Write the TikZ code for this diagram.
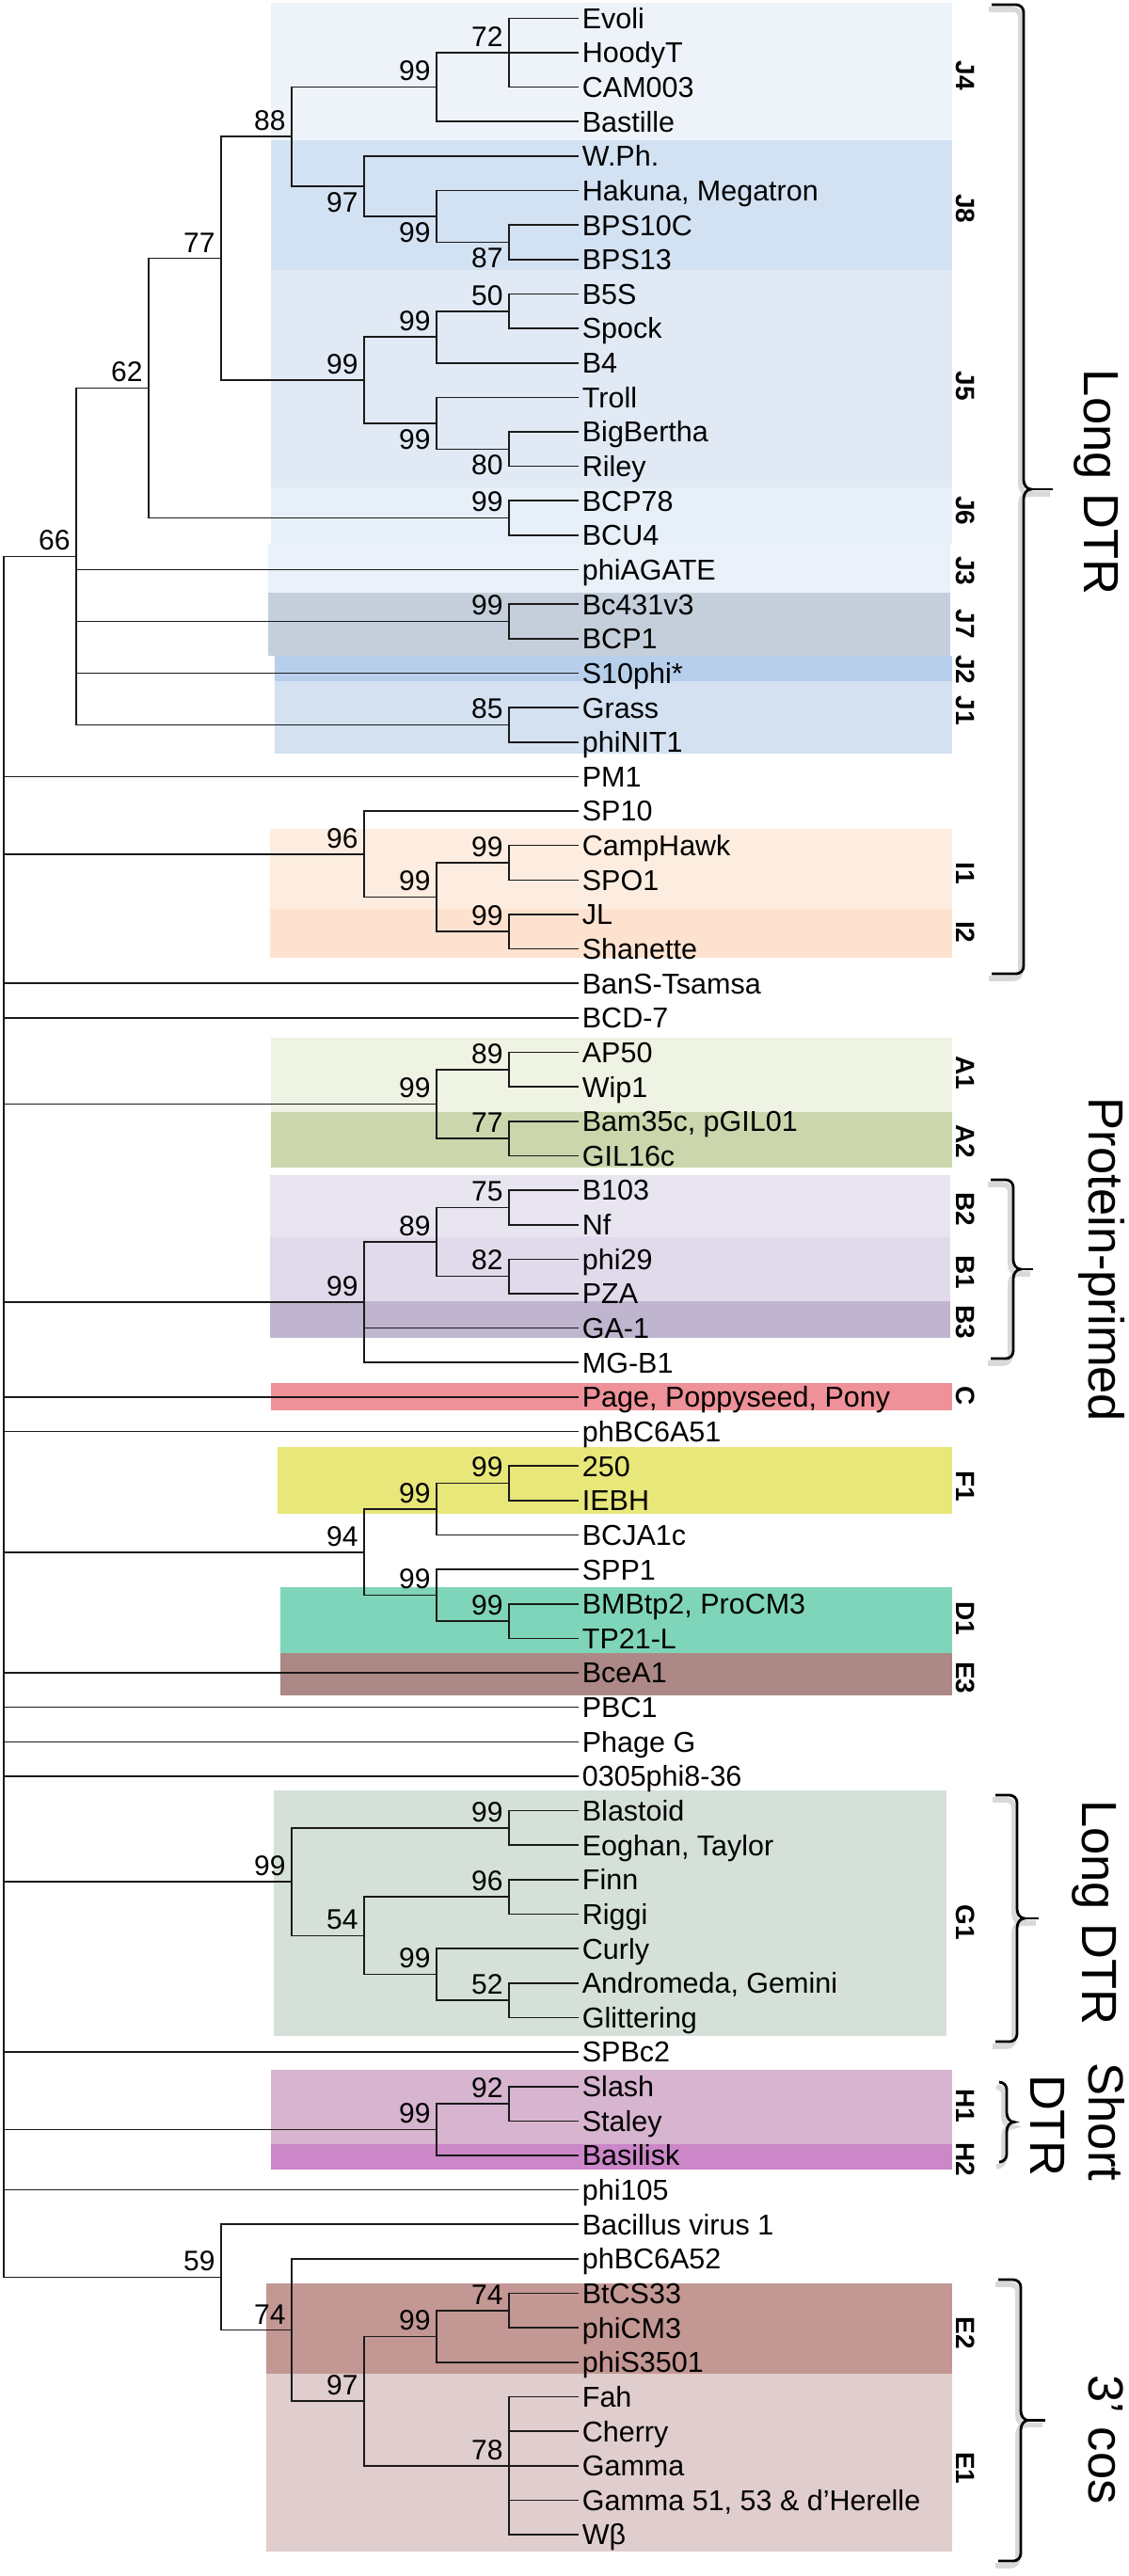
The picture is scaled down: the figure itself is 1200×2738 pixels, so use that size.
\documentclass[tikz,border=0pt]{standalone}
\usepackage{fontspec}
\setmainfont{Liberation Sans}
\usepackage{tikz}
\usetikzlibrary{positioning, calc}

\definecolor{jfour}{HTML}{EEF3F9}
\definecolor{jeight}{HTML}{D3E2F3}
\definecolor{jfive}{HTML}{E1E9F4}
\definecolor{jsix}{HTML}{E7EFF8}
\definecolor{jthree}{HTML}{EAF1F9}
\definecolor{jseven}{HTML}{C4CFDB}
\definecolor{jtwo}{HTML}{B7CFEB}
\definecolor{jone}{HTML}{D3E1F1}
\definecolor{ione}{HTML}{FDEDE0}
\definecolor{itwo}{HTML}{FDE2CF}
\definecolor{aone}{HTML}{EEF3E3}
\definecolor{atwo}{HTML}{CBD6AD}
\definecolor{btwo}{HTML}{E8E4F0}
\definecolor{bone}{HTML}{E0DAEA}
\definecolor{bthree}{HTML}{C0B5CE}
\definecolor{cred}{HTML}{EF9198}
\definecolor{fyellow}{HTML}{E8E779}
\definecolor{dmint}{HTML}{7FD5B9}
\definecolor{ethree}{HTML}{AC8986}
\definecolor{gone}{HTML}{D5E0D9}
\definecolor{hone}{HTML}{D7B4CF}
\definecolor{htwo}{HTML}{CB87C8}
\definecolor{etwo}{HTML}{C39793}
\definecolor{eone}{HTML}{E0CDCD}
\definecolor{treeline}{HTML}{1A1A1A}

\tikzset{
  branch/.style={draw=treeline, line width=0.8pt},
  leaf/.style={anchor=west, inner xsep=1.75pt, inner ysep=0pt, text height=10.9pt, text depth=0pt, font=\fontsize{15.25}{18}\selectfont},
  bsa/.style={anchor=south east, inner sep=0pt, xshift=-3pt, yshift=3pt, font=\fontsize{15}{18}\selectfont},
  bsb/.style={anchor=north east, inner sep=0pt, xshift=-3pt, yshift=-3pt, font=\fontsize{15}{18}\selectfont},
  grp/.style={rotate=-90, inner sep=0pt, font=\bfseries\fontsize{14}{16}\selectfont},
  tag/.style={rotate=-90, anchor=base, inner sep=0pt, font=\fontsize{26.25}{30}\selectfont},
  cbrace/.style={draw=black, line width=1.4pt},
  cshadow/.style={draw=black!15, line width=2.8pt, xshift=-1.5pt, yshift=-2.5pt},
}

% brace: x, top, bottom, hook, tip
\newcommand{\cladebrace}[5]{%
  \draw[cshadow] ({#1-#4},#2) -- ({#1-8},#2) to[out=0,in=90] (#1,{#2+8})
    -- (#1,{(#2+#3)/2-10}) to[out=-90,in=180] ({#1+8},{(#2+#3)/2})
    to[out=180,in=90] (#1,{(#2+#3)/2+10}) -- (#1,{#3-8})
    to[out=-90,in=0] ({#1-8},#3) -- ({#1-#4},#3);
  \draw[cshadow] ({#1+8},{(#2+#3)/2}) -- ({#1+#5},{(#2+#3)/2});
  \draw[cbrace] ({#1-#4},#2) -- ({#1-8},#2) to[out=0,in=90] (#1,{#2+8})
    -- (#1,{(#2+#3)/2-10}) to[out=-90,in=180] ({#1+8},{(#2+#3)/2})
    to[out=180,in=90] (#1,{(#2+#3)/2+10}) -- (#1,{#3-8})
    to[out=-90,in=0] ({#1-8},#3) -- ({#1-#4},#3);
  \draw[cbrace] ({#1+8},{(#2+#3)/2}) -- ({#1+#5},{(#2+#3)/2});
}

\begin{document}
\begin{tikzpicture}[x=0.5pt, y=-0.5pt]
  \useasboundingbox (0,0) rectangle (1200,2738);
  \fill[white] (0,0) rectangle (1200,2738);

  % clade boxes
  \foreach \xa/\ya/\xb/\yb/\col in {
    288/3/1012/149/jfour, 288/149/1012/287/jeight, 288/287/1012/518/jfive,
    288/518/1012/578/jsix, 285/578/1010/630/jthree, 285/630/1010/697/jseven,
    292/697/1012/724/jtwo, 292/724/1012/801/jone,
    287/881/1012/966/ione, 287/966/1012/1018/itwo,
    288/1103/1012/1182/aone, 288/1182/1012/1241/atwo,
    287/1249/1010/1315/btwo, 287/1315/1010/1383/bone, 287/1383/1010/1422/bthree,
    288/1470/1012/1499/cred, 295/1538/1012/1609/fyellow,
    298/1687/1012/1757/dmint, 298/1757/1012/1802/ethree,
    291/1903/1006/2164/gone,
    288/2200/1012/2279/hone, 288/2279/1012/2306/htwo,
    283/2427/1012/2523/etwo, 283/2523/1012/2712/eone}
    \fill[\col] (\xa,\ya) rectangle (\xb,\yb);

  % leaves
  \foreach \nm/\txt [count=\i from 0] in {
    evoli/Evoli, hoodyt/HoodyT, cam003/CAM003, bastille/Bastille, wph/W.Ph.,
    hakuna/{Hakuna, Megatron}, bps10c/BPS10C, bps13/BPS13, b5s/B5S, spock/Spock,
    b4/B4, troll/Troll, bigbertha/BigBertha, riley/Riley, bcp78/BCP78, bcu4/BCU4,
    phiagate/phiAGATE, bc431v3/Bc431v3, bcp1/BCP1, s10phi/S10phi*, grass/Grass,
    phinit1/phiNIT1, pm1/PM1, sp10/SP10, camphawk/CampHawk, spo1/SPO1, jl/JL,
    shanette/Shanette, bans/BanS-Tsamsa, bcd7/BCD-7, ap50/AP50, wip1/Wip1,
    bam35c/{Bam35c, pGIL01}, gil16c/GIL16c, b103/B103, nf/Nf, phi29/phi29,
    pza/PZA, ga1/GA-1, mgb1/MG-B1, page/{Page, Poppyseed, Pony}, phbc6a51/phBC6A51,
    p250/250, iebh/IEBH, bcja1c/BCJA1c, spp1/SPP1, bmbtp2/{BMBtp2, ProCM3},
    tp21l/TP21-L, bcea1/BceA1, pbc1/PBC1, phageg/Phage G, p0305/0305phi8-36,
    blastoid/Blastoid, eoghan/{Eoghan, Taylor}, finn/Finn, riggi/Riggi, curly/Curly,
    andromeda/{Andromeda, Gemini}, glittering/Glittering, spbc2/SPBc2, slash/Slash,
    staley/Staley, basilisk/Basilisk, phi105/phi105, bv1/Bacillus virus 1,
    phbc6a52/phBC6A52, btcs33/BtCS33, phicm3/phiCM3, phis3501/phiS3501, fah/Fah,
    cherry/Cherry, gamma/Gamma, gamma51/{Gamma 51, 53 \& d’Herelle}, wbeta/Wβ}
    \node[leaf] (\nm) at (615, 19.3+36.64*\i) {\txt};

  % internal nodes
  \foreach \n/\x/\y in {
    root/4/1505.9, n66/81/591.5, n62/158/412.6, n77/235/274.6, n88/310/145.25,
    n99a/464/92.58, n72/541/55.94, n97/387/197.92, n99b/464/229.98, n87/541/257.46,
    n99e/387/404.02, n99c/464/358.22, n50/541/330.74, n99d/464/449.82, n80/541/477.3,
    n99f/541/550.58, n99g/541/660.5, n85/541/770.42,
    n96/387/907.82, n99j/464/953.62, n99h/541/916.98, n99i/541/990.26,
    n99k/464/1173.46, n89a/541/1136.82, n77b/541/1210.1,
    n99l/387/1384.14, n89b/464/1320.02, n75/541/1283.38, n82/541/1356.66,
    n94/387/1649.78, n99n/464/1603.98, n99m/541/1576.5, n99p/464/1695.58, n99o/541/1723.06,
    n99s/310/2000.15, n99q/541/1942.9, n54/387/2057.4, n96b/541/2016.18,
    n99r/464/2098.62, n52/541/2126.1, n99t/464/2263.5, n92/541/2236.02,
    n59/235/2420.37, n74b/310/2476.47, n97b/387/2552.04, n99u/464/2483.34,
    n74a/541/2455.86, n78/541/2620.74}
    \coordinate (\n) at (\x,\y);

  % branches
  \foreach \p/\c in {
    root/n66, root/pm1.west, root/n96, root/bans.west, root/bcd7.west, root/n99k,
    root/n99l, root/page.west, root/phbc6a51.west, root/n94, root/bcea1.west,
    root/pbc1.west, root/phageg.west, root/p0305.west, root/n99s, root/spbc2.west,
    root/n99t, root/phi105.west, root/n59,
    n66/n62, n66/phiagate.west, n66/n99g, n66/s10phi.west, n66/n85,
    n62/n77, n62/n99f, n77/n88, n77/n99e, n88/n99a, n88/n97,
    n99a/n72, n99a/bastille.west, n72/evoli.west, n72/hoodyt.west, n72/cam003.west,
    n97/wph.west, n97/n99b, n99b/hakuna.west, n99b/n87, n87/bps10c.west, n87/bps13.west,
    n99e/n99c, n99e/n99d, n99c/n50, n99c/b4.west, n50/b5s.west, n50/spock.west,
    n99d/troll.west, n99d/n80, n80/bigbertha.west, n80/riley.west,
    n99f/bcp78.west, n99f/bcu4.west, n99g/bc431v3.west, n99g/bcp1.west,
    n85/grass.west, n85/phinit1.west,
    n96/sp10.west, n96/n99j, n99j/n99h, n99j/n99i, n99h/camphawk.west, n99h/spo1.west,
    n99i/jl.west, n99i/shanette.west,
    n99k/n89a, n99k/n77b, n89a/ap50.west, n89a/wip1.west, n77b/bam35c.west, n77b/gil16c.west,
    n99l/n89b, n99l/ga1.west, n99l/mgb1.west, n89b/n75, n89b/n82,
    n75/b103.west, n75/nf.west, n82/phi29.west, n82/pza.west,
    n94/n99n, n94/n99p, n99n/n99m, n99n/bcja1c.west, n99m/p250.west, n99m/iebh.west,
    n99p/spp1.west, n99p/n99o, n99o/bmbtp2.west, n99o/tp21l.west,
    n99s/n99q, n99s/n54, n99q/blastoid.west, n99q/eoghan.west, n54/n96b, n54/n99r,
    n96b/finn.west, n96b/riggi.west, n99r/curly.west, n99r/n52,
    n52/andromeda.west, n52/glittering.west,
    n99t/n92, n99t/basilisk.west, n92/slash.west, n92/staley.west,
    n59/bv1.west, n59/n74b, n74b/phbc6a52.west, n74b/n97b, n97b/n99u, n97b/n78,
    n99u/n74a, n99u/phis3501.west, n74a/btcs33.west, n74a/phicm3.west,
    n78/fah.west, n78/cherry.west, n78/gamma.west, n78/gamma51.west, n78/wbeta.west}
    \draw[branch] (\p) |- (\c);

  % bootstrap values
  \foreach \n/\v in {
    n72/72, n99a/99, n88/88, n77/77, n62/62, n66/66, n50/50, n99c/99, n99e/99,
    n99f/99, n99g/99, n85/85, n96/96, n99h/99, n99j/99, n99i/99, n89a/89, n99k/99,
    n77b/77, n75/75, n89b/89, n82/82, n99l/99, n99m/99, n99n/99, n94/94, n99p/99,
    n99o/99, n99q/99, n99s/99, n96b/96, n54/54, n99r/99, n52/52, n92/92, n99t/99,
    n59/59, n74b/74, n74a/74, n99u/99, n97b/97, n78/78}
    \node[bsa] (b\n) at (\n) {\v};
  \foreach \n/\v in {n97/97, n99b/99, n87/87, n99d/99, n80/80}
    \node[bsb] (b\n) at (\n) {\v};

  % clade names
  \foreach \g/\y in {
    J4/80, J8/221.7, J5/410, J6/542.7, J3/606.7, J7/663.3, J2/711.7, J1/755,
    I1/928.3, I2/990.7, A1/1140, A2/1213.3, B2/1285, B1/1352, B3/1405, C/1483.3,
    F1/1580, D1/1720, E3/1783.3, G1/2043.3, H1/2238, H2/2295, E2/2480, E1/2623.3}
    \node[grp] (g\g) at (1026, \y) {\g};

  % brackets
  \cladebrace{1088}{5}{1035}{34}{31}
  \cladebrace{1077}{1254}{1444}{24}{21}
  \cladebrace{1081}{1908}{2170}{23}{23}
  \cladebrace{1070}{2213}{2298}{8}{9}
  \cladebrace{1085}{2423}{2722}{24}{26}

  \node[tag] (longdtr) at (1152, 512.5) {Long DTR};
  \node[tag] (protein) at (1157, 1339) {Protein-primed};
  \node[tag] (longdtrg) at (1150, 2033) {Long DTR};
  \node[tag] (shorttag) at (1157, 2255.5) {Short};
  \node[tag] (dtrtag) at (1095, 2259) {DTR};
  \node[tag] (cos) at (1157, 2593) {3’ cos};
\end{tikzpicture}
\end{document}
